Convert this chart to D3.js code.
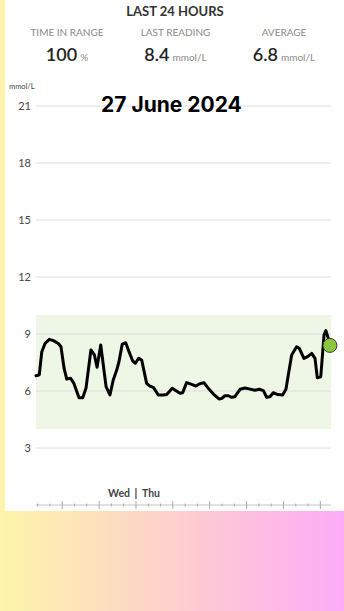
<!DOCTYPE html>
<html>
<head>
<meta charset="utf-8">
<script src="https://cdn.jsdelivr.net/npm/d3@7"></script>
<style>
  html, body { margin: 0; padding: 0; }
  body { width: 344px; height: 611px; overflow: hidden; }
</style>
</head>
<body>
<div id="chart"></div>
<script>
// readings (Wed 26 -> Thu 27 June 2024)
var times = ["26 15:52","26 16:08","26 16:20","26 16:36","26 16:57","26 17:17","26 17:41","26 17:54",
  "26 18:09","26 18:22","26 18:41","26 18:57","26 19:22","26 19:40","26 19:56","26 20:20","26 20:37",
  "26 20:50","26 21:08","26 21:34","26 21:53","26 22:09","26 22:26","26 22:37","26 22:53","26 23:10",
  "26 23:26","26 23:44","26 23:57","27 00:13","27 00:28","27 00:52","27 01:08","27 01:25","27 01:49",
  "27 02:14","27 02:30","27 02:57","27 03:10","27 03:35","27 03:48","27 04:07","27 04:32","27 04:53",
  "27 05:09","27 05:32","27 05:53","27 06:18","27 06:45","27 06:58","27 07:14","27 07:31","27 07:47",
  "27 08:03","27 08:28","27 08:52","27 09:17","27 09:41","27 10:02","27 10:22","27 10:38","27 10:54",
  "27 11:10","27 11:32","27 11:56","27 12:12","27 12:25","27 12:40","27 13:04","27 13:17","27 13:40",
  "27 13:58","27 14:18","27 14:34","27 14:45","27 15:02","27 15:18","27 15:27","27 15:39"];
var glucose = [6.8,6.85,8.05,8.5,8.72,8.65,8.5,8.33,
  7.2,6.63,6.67,6.4,5.65,5.65,6.14,8.16,7.9,
  7.25,8.42,6.23,5.79,6.58,7.1,7.54,8.47,8.54,
  8.07,7.58,7.46,7.72,7.63,6.4,6.26,6.19,5.79,
  5.79,5.82,6.14,6.05,5.88,5.91,6.44,6.35,6.26,
  6.37,6.44,6.14,5.84,5.58,5.6,5.75,5.75,5.67,
  5.7,6.09,6.16,6.1,6.04,6.09,6.02,5.67,5.7,
  5.91,5.81,5.79,6.09,6.93,7.9,8.33,8.25,7.72,
  7.81,7.98,7.72,6.7,6.75,8.95,9.18,8.77];
var lastTime = "27 15:47", lastValue = 8.4;
var yTicks = [3, 6, 9, 12, 15, 18, 21];
var targetRange = [4, 10];
var stats = [
  {label: "TIME IN RANGE", value: "100", unit: "%"},
  {label: "LAST READING", value: "8.4", unit: "mmol/L"},
  {label: "AVERAGE", value: "6.8", unit: "mmol/L"}
];
var startTime = "26 15:52", endTime = "27 15:52";

var W = 344, H = 611;
var parse = d3.timeParse("%Y-%m-%d %H:%M");
function toDate(s) { return parse("2024-06-" + s); }

var svg = d3.select("#chart").append("svg")
    .attr("width", W).attr("height", H)
    .style("font-family", "Lato, 'Open Sans', sans-serif");

// background gradient + white card
var defs = svg.append("defs");
var grad = defs.append("linearGradient").attr("id", "bg").attr("x1", 0).attr("x2", 1).attr("y1", 0).attr("y2", 0);
grad.append("stop").attr("offset", "0%").attr("stop-color", "#fdf5a9");
grad.append("stop").attr("offset", "50%").attr("stop-color", "#fdd0cc");
grad.append("stop").attr("offset", "100%").attr("stop-color", "#fdabf7");
svg.append("rect").attr("width", W).attr("height", H).attr("fill", "url(#bg)");
svg.append("rect").attr("x", 5).attr("y", 0).attr("width", W - 5).attr("height", 511).attr("fill", "#fff");

// header
svg.append("text").attr("x", 175).attr("y", 16).attr("text-anchor", "middle")
  .style("font-size", "13px").style("font-weight", 700).style("fill", "#333").text("LAST 24 HOURS");

var statX = d3.scalePoint().domain(stats.map(function(d) { return d.label; })).range([67, 284]);
var st = svg.append("g").selectAll("g").data(stats).enter().append("g")
  .attr("transform", function(d) { return "translate(" + statX(d.label) + ",0)"; });
st.append("text").attr("y", 36).attr("text-anchor", "middle")
  .style("font-size", "10px").style("fill", "#8a8a8a").text(function(d) { return d.label; });
var vt = st.append("text").attr("y", 61).attr("text-anchor", "middle");
vt.append("tspan").style("font-size", "18px").style("font-weight", 600).style("fill", "#222")
  .text(function(d) { return d.value; });
vt.append("tspan").attr("dx", 3).style("font-size", "10px").style("fill", "#8a8a8a")
  .text(function(d) { return d.unit; });

// scales
var x = d3.scaleTime().domain([toDate(startTime), toDate(endTime)]).range([36, 331]);
var y = d3.scaleLinear().domain([0, 21]).range([505, 106]);

// target band
svg.append("rect")
  .attr("x", x.range()[0]).attr("width", x.range()[1] - x.range()[0])
  .attr("y", y(targetRange[1])).attr("height", y(targetRange[0]) - y(targetRange[1]))
  .attr("fill", "#eef6e6");

// grid + y labels
svg.append("g").selectAll("line").data(yTicks).enter().append("line")
  .attr("x1", x.range()[0]).attr("x2", x.range()[1])
  .attr("y1", function(d) { return y(d); }).attr("y2", function(d) { return y(d); })
  .attr("stroke", "#dedede").attr("stroke-width", 1);
svg.append("g").selectAll("text").data(yTicks).enter().append("text")
  .attr("x", 31).attr("y", function(d) { return y(d) + 4; }).attr("text-anchor", "end")
  .style("font-size", "11px").style("fill", "#444").text(function(d) { return d; });
svg.append("text").attr("x", 9).attr("y", 89).style("font-size", "7.5px").style("fill", "#444").text("mmol/L");

// date title
svg.append("text").attr("x", 101).attr("y", 112)
  .style("font-family", "Inter, 'Liberation Sans', sans-serif")
  .style("font-size", "21px").style("font-weight", 700).style("fill", "#000").text("27 June 2024");

// x axis
var xa = svg.append("g");
xa.append("line").attr("x1", x.range()[0]).attr("x2", x.range()[1]).attr("y1", 505).attr("y2", 505)
  .attr("stroke", "#c4c4c4");
var hours = x.ticks(d3.timeHour.every(1));
xa.selectAll(".tk").data(hours).enter().append("line")
  .attr("x1", function(d) { return x(d); }).attr("x2", function(d) { return x(d); })
  .attr("y1", function(d) { return d.getHours() % 3 === 0 ? 501 : 503.5; })
  .attr("y2", function(d) { return d.getHours() % 3 === 0 ? 509 : 506.5; })
  .attr("stroke", "#aaa");
var midnight = d3.timeDay.ceil(toDate(startTime));
xa.append("text").attr("x", x(midnight) - 6).attr("y", 497).attr("text-anchor", "end")
  .style("font-size", "10.5px").style("font-weight", 700).style("fill", "#444").text("Wed");
xa.append("text").attr("x", x(midnight) + 6).attr("y", 497).attr("text-anchor", "start")
  .style("font-size", "10.5px").style("font-weight", 700).style("fill", "#444").text("Thu");
xa.append("line").attr("x1", x(midnight)).attr("x2", x(midnight)).attr("y1", 488).attr("y2", 499)
  .attr("stroke", "#444").attr("stroke-width", 1.2);

// glucose line
var data = times.map(function(t, i) { return {t: toDate(t), v: glucose[i]}; });
svg.append("path").datum(data)
  .attr("d", d3.line().x(function(d) { return x(d.t); }).y(function(d) { return y(d.v); }))
  .attr("fill", "none").attr("stroke", "#000").attr("stroke-width", 3)
  .attr("stroke-linejoin", "round").attr("stroke-linecap", "round");

// last reading dot
svg.append("circle").attr("cx", x(toDate(lastTime))).attr("cy", y(lastValue)).attr("r", 7)
  .attr("fill", "#8cc63f").attr("stroke", "#3a3a3a").attr("stroke-width", 1);
</script>
</body>
</html>
